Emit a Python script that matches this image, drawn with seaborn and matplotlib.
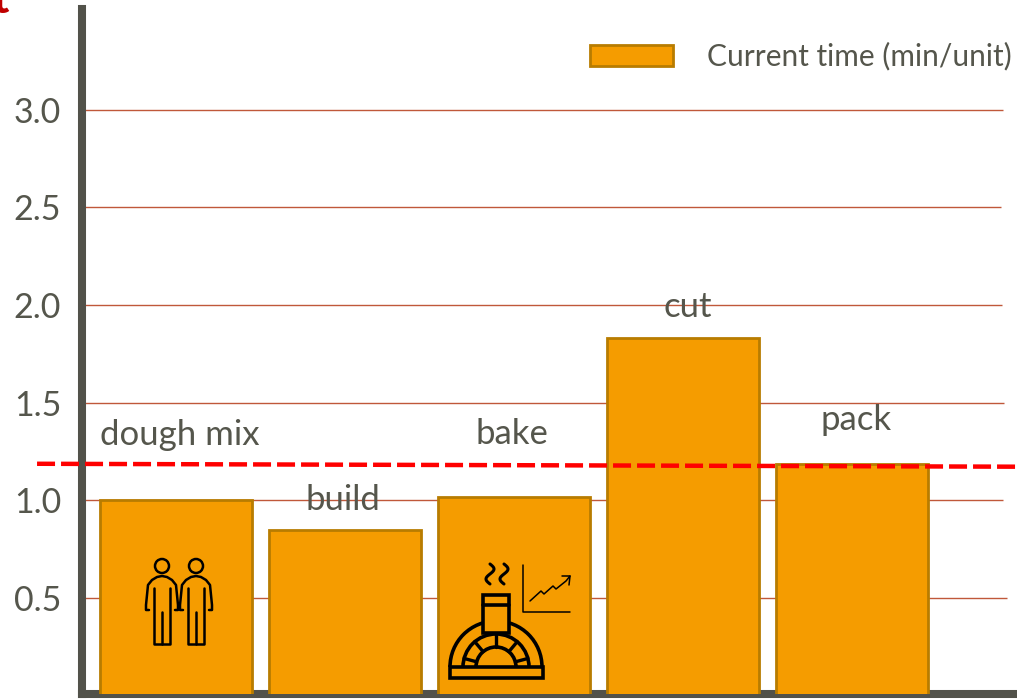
import numpy as np
import pandas as pd
import seaborn as sns
import matplotlib.pyplot as plt
from matplotlib.patches import Arc, Circle, Rectangle

steps = ['dough mix', 'build', 'bake', 'cut', 'pack']
current_time = [1.0, 0.85, 1.015, 1.83, 1.185]
y_ticks = [0.5, 1.0, 1.5, 2.0, 2.5, 3.0]
takt_time = [1.187, 1.172]
series_name = 'Current time (min/unit)'

# label offsets from the bar top, in pixels
label_dx = [4, -2, -2, 5, 4]
label_dy = [65, 30, 63, 31, 44]
grid_ends = [4.917, 4.893, 4.899, 4.887, 4.881, 4.893]

ORANGE = '#f59c00'
EDGE = '#b87c00'
GREY = '#55564c'
SPINE = '#52524a'
GRID = '#c0583a'

sns.set_theme(style='white')
plt.rcParams['font.family'] = ['Lato', 'DejaVu Sans']

W, H = 1017, 700
fig = plt.figure(figsize=(W / 100, H / 100), dpi=100)
ax = fig.add_axes([82 / W, 1 - 693.5 / H, (W - 82) / W, (693.5 - 9) / H])

df = pd.DataFrame({'step': steps, 'time': current_time})
sns.barplot(data=df, x='step', y='time', color=ORANGE, saturation=1, width=0.9,
            edgecolor=EDGE, linewidth=2, label=series_name, zorder=3, ax=ax)

ax.set_xlim(-0.556, 4.976)
ax.set_ylim(0.01, 3.517)

for tick, end in zip(y_ticks, grid_ends):
    ax.hlines(tick, -0.556, end, color=GRID, lw=1, zorder=1)

ax.plot([-0.822, 4.976], takt_time, color='#ff0000', lw=3.2, dashes=(4.05, 1.35),
        dash_capstyle='butt', clip_on=False, zorder=5)

ax.set_xlabel('')
ax.set_ylabel('')
ax.set_xticks([])
ax.set_yticks(y_ticks)
ax.set_yticklabels([f'{t:.1f}' for t in y_ticks])
ax.tick_params(axis='y', length=0, pad=15, labelsize=24.5, labelcolor=GREY)

sns.despine(ax=ax)
for side in ['left', 'bottom']:
    ax.spines[side].set_linewidth(5.8)
    ax.spines[side].set_color(SPINE)

for i, (step, val) in enumerate(zip(steps, current_time)):
    ax.annotate(step, (i, val), xytext=(label_dx[i] * 0.72, label_dy[i] * 0.72),
                textcoords='offset points', ha='center', va='center',
                fontsize=25, color=GREY, zorder=6)

ax.legend(loc='upper right', bbox_to_anchor=(0.9947, 0.9518), frameon=False, fontsize=21.5,
          labelcolor=GREY, handlelength=2.8, handleheight=0.7, handletextpad=1.14,
          borderaxespad=0, borderpad=0)

# icons and the clipped title letter, on a pixel overlay
ov = fig.add_axes([0, 0, 1, 1], facecolor='none')
ov.set_xlim(0, W)
ov.set_ylim(H, 0)
ov.axis('off')

lw = 1.8
# two people
for cx in [162, 196]:
    ov.add_patch(Circle((cx, 566), 7, fill=False, ec='black', lw=lw, zorder=7))
    ov.plot(cx + np.array([-13, -16, -16, -14, -10, -5, 0, 5, 10, 14, 16, 16, 13]),
            [610, 610, 605, 585, 580, 577, 576, 577, 580, 585, 605, 610, 610],
            color='black', lw=lw, zorder=7)
    ov.plot([cx - 8, cx - 8, cx + 8, cx + 8], [588, 644, 644, 588], color='black', lw=lw, zorder=7)
    ov.plot([cx, cx], [612, 644], color='black', lw=lw, zorder=7)

# oven
ov.add_patch(Rectangle((450, 667), 93, 11, fill=False, ec='black', lw=2.6, zorder=7))
ov.add_patch(Arc((496, 667), 92, 92, theta1=180, theta2=360, ec='black', lw=2.6, zorder=7))
ov.add_patch(Arc((496, 667), 66, 66, theta1=180, theta2=360, ec='black', lw=2.6, zorder=7))
ov.add_patch(Arc((496, 667), 40, 40, theta1=180, theta2=360, ec='black', lw=2.6, zorder=7))
ov.add_patch(Rectangle((483, 595), 26, 38, fc=ORANGE, ec='black', lw=2.6, zorder=8))
ov.plot([483, 509], [605, 605], color='black', lw=2.6, zorder=8)
for ang in [15, 50, 90, 130, 165]:
    a = np.deg2rad(ang)
    ov.plot([496 + 20 * np.cos(a), 496 + 33 * np.cos(a)],
            [667 - 20 * np.sin(a), 667 - 33 * np.sin(a)], color='black', lw=2.4, zorder=7)
for sx in [490, 504]:
    t = np.linspace(0, 1, 30)
    ov.plot(sx + 4 * np.sin(t * 2 * np.pi), 564 + 20 * t, color='black', lw=2.2, zorder=7)

# small trend chart
ov.plot([523, 523, 570], [565, 612, 612], color='black', lw=1.1, zorder=7)
ov.plot([530, 541, 544, 553, 556, 566, 570], [601, 591, 594, 586, 589, 581, 576],
        color='black', lw=1.1, zorder=7)
ov.plot([562, 570, 569], [576, 576, 585], color='black', lw=1.1, zorder=7)

# clipped title fragment
ov.text(-9, 13, 't', color='#c00000', fontsize=34, fontweight='bold', va='baseline', ha='left')

fig.savefig('out.png', dpi=100)
